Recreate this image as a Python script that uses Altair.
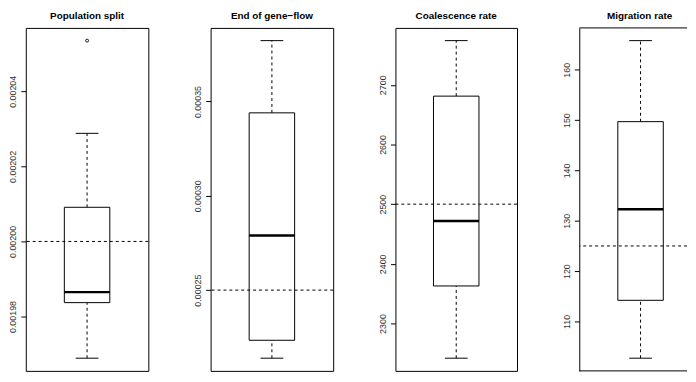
import altair as alt
import pandas as pd

titles = ["Population split", "End of gene\u2212flow", "Coalescence rate", "Migration rate"]
lower_whisker = [0.0019689, 0.0002139, 2242, 102.7]
q1 = [0.0019837, 0.0002234, 2363, 114.2]
median = [0.0019865, 0.0002789, 2472, 132.3]
q3 = [0.0020091, 0.0003440, 2681, 149.7]
upper_whisker = [0.0020288, 0.0003823, 2774, 165.8]
outliers = [[0.0020535], [], [], []]
true_values = [0.00200, 0.00025, 2500, 125]
tick_values = [
    [0.00198, 0.00200, 0.00202, 0.00204],
    [0.00025, 0.00030, 0.00035],
    [2300, 2400, 2500, 2600, 2700],
    [110, 120, 130, 140, 150, 160],
]
tick_formats = [".5f", ".5f", "d", "d"]

FONT = "Liberation Sans"
DASH = [3, 3]
WIDTHS = [124, 124, 123, 109]
FULL_W = 124
HEIGHT = 347

panels = []
for i in range(4):
    last = i == 3
    vals = [lower_whisker[i], upper_whisker[i]] + outliers[i]
    dmin, dmax = min(vals), max(vals)
    ext = (dmax - dmin) * 0.04
    yscale = alt.Scale(domain=[dmin - ext, dmax + ext], nice=False, zero=False)
    yaxis = alt.Axis(
        values=tick_values[i], format=tick_formats[i], labelAngle=270,
        labelAlign="center", labelBaseline="bottom", labelPadding=3,
        labelFont=FONT, labelFontSize=9, labelColor="#333333",
        tickSize=5, tickColor="black", grid=False, title=None,
        domain=last, domainColor="black", domainWidth=1,
    )
    stats = pd.DataFrame({
        "g": [titles[i]], "lo": [lower_whisker[i]], "q1": [q1[i]],
        "med": [median[i]], "q3": [q3[i]], "hi": [upper_whisker[i]],
        "ref": [true_values[i]],
    })
    if last:
        x = alt.X("g:N", axis=None, scale=alt.Scale(range=[0, FULL_W]))
    else:
        x = alt.X("g:N", axis=None)
    base = alt.Chart(stats)
    whisk_up = base.mark_rule(color="black", strokeDash=DASH, strokeWidth=1).encode(
        x=x, y=alt.Y("q3:Q", scale=yscale, axis=yaxis), y2="hi:Q")
    whisk_lo = base.mark_rule(color="black", strokeDash=DASH, strokeWidth=1).encode(
        x=x, y=alt.Y("lo:Q", scale=yscale, axis=yaxis), y2="q1:Q")
    box = base.mark_bar(size=46, color="white", stroke="black", strokeWidth=1, opacity=1).encode(
        x=x, y=alt.Y("q1:Q", scale=yscale, axis=yaxis), y2="q3:Q")
    caps = base.transform_fold(["lo", "hi"]).mark_tick(
        size=23, thickness=1, color="black", opacity=1).encode(
        x=x, y=alt.Y("value:Q", scale=yscale, axis=yaxis))
    med = base.mark_tick(size=46, thickness=2.5, color="black", opacity=1).encode(
        x=x, y=alt.Y("med:Q", scale=yscale, axis=yaxis))
    ref = base.mark_rule(color="black", strokeDash=DASH, strokeWidth=1).encode(
        y=alt.Y("ref:Q", scale=yscale, axis=yaxis))
    layers = [whisk_up, whisk_lo, box, caps, med]
    if outliers[i]:
        odf = pd.DataFrame({"g": [titles[i]] * len(outliers[i]), "v": outliers[i]})
        pts = alt.Chart(odf).mark_point(shape="circle", size=9, filled=False,
                                        stroke="black", strokeWidth=0.9, opacity=1).encode(
            x=x, y=alt.Y("v:Q", scale=yscale, axis=yaxis))
        layers.append(pts)
    layers.append(ref)
    props = dict(
        width=WIDTHS[i], height=HEIGHT,
        title=alt.TitleParams(titles[i], font=FONT, fontSize=10, fontWeight="bold",
                              color="black", anchor="middle", offset=7),
    )
    if last:
        # frame continues past the page edge: draw only top and bottom edges
        top_edge = base.mark_rule(color="black", strokeWidth=1).encode(
            x=alt.value(0), x2=alt.value(WIDTHS[i]), y=alt.value(0))
        bottom_edge = base.mark_rule(color="black", strokeWidth=1).encode(
            x=alt.value(0), x2=alt.value(WIDTHS[i]), y=alt.value(HEIGHT))
        layers += [top_edge, bottom_edge]
        props["view"] = alt.ViewBackground(stroke="transparent")
        props["title"] = alt.TitleParams(titles[i], font=FONT, fontSize=10, fontWeight="bold",
                                         color="black", anchor="start", frame="group",
                                         offset=7, dx=28)
    panel = alt.layer(*layers).properties(**props)
    panels.append(panel)

chart = (
    alt.hconcat(*panels, spacing=44)
    .resolve_scale(y="independent", x="independent")
    .properties(padding=0)
    .configure_view(stroke="black", strokeWidth=1)
)
chart.save("out.html", embed_options={"renderer": "svg", "actions": False})
